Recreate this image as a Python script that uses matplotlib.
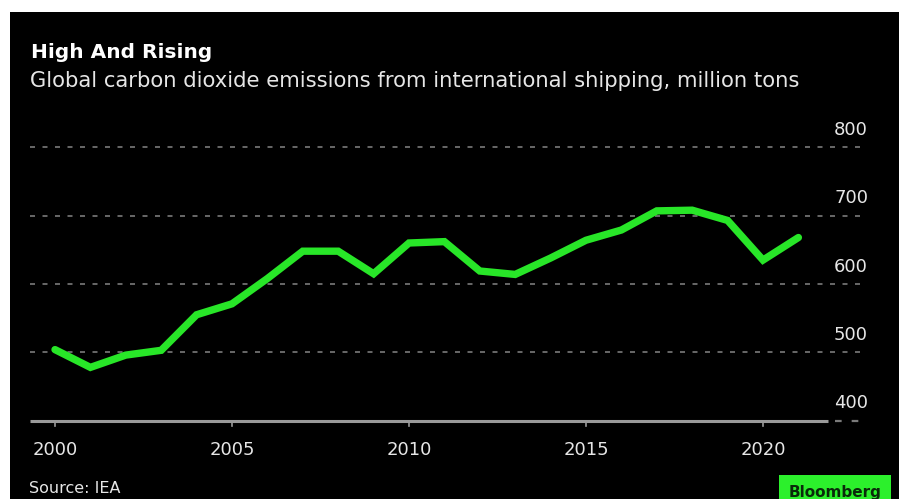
import numpy as np
import matplotlib.pyplot as plt
from matplotlib.patches import Rectangle

YEARS = list(range(2000, 2022))
EMISSIONS = [504, 478, 496, 503, 555, 571, 608, 648, 648, 615, 660, 662,
             619, 614, 638, 664, 679, 707, 708, 693, 635, 668]
Y_TICKS = [400, 500, 600, 700, 800]
X_TICKS = [2000, 2005, 2010, 2015, 2020]

TITLE = 'High And Rising'
SUBTITLE = 'Global carbon dioxide emissions from international shipping, million tons'
SOURCE = 'Source: IEA'

W, H = 904, 499
LINE_GREEN = '#28e628'
LOGO_GREEN = '#2cf02c'
GRID_GRAY = '#7a7a7a'
AXIS_GRAY = '#9a9a9a'
TEXT_COLOR = '#e6e6e6'
FONT = 'DejaVu Sans'

fig = plt.figure(figsize=(W / 100, H / 100), dpi=100, facecolor='white')
# black card with a thin white margin, like the screenshot
fig.patches.append(Rectangle((10 / W, 0), 889 / W, 1 - 12 / H, transform=fig.transFigure,
                             facecolor='black', edgecolor='none', zorder=-5))


def px(x, y):
    # pixel coords (origin top-left) -> figure fraction
    return x / W, 1 - y / H


# axes: x 30..865 px, y limits 390..810
ax_l, ax_r = 30, 865
y_lo, y_hi = 390, 810
y_top_px = 147.3 - (y_hi - 800) * 0.6835
y_bot_px = 420.7 + (400 - y_lo) * 0.6835
ax = fig.add_axes([ax_l / W, 1 - y_bot_px / H, (ax_r - ax_l) / W, (y_bot_px - y_top_px) / H])
ax.set_facecolor('none')
ax.set_zorder(2)
px_per_year = 35.4
x_left = 2000 - (55 - ax_l) / px_per_year
x_right = 2000 + (ax_r - 55) / px_per_year
ax.set_xlim(x_left, x_right)
ax.set_ylim(y_lo, y_hi)
for s in ax.spines.values():
    s.set_visible(False)
ax.set_yticks([])
ax.set_xticks([])

# dashed gridlines
for v in Y_TICKS[1:]:
    ax.axhline(v, color=GRID_GRAY, lw=1.2, linestyle=(0, (3, 4.5)), zorder=1)
# baseline: solid up to the end of the data area, dashed after
axis_end = 2000 + (828 - 55) / px_per_year
ax.plot([x_left, axis_end], [400, 400], color=AXIS_GRAY, lw=2.2, solid_capstyle='butt', zorder=2)
ax.plot([axis_end + 0.2, x_right], [400, 400], color=GRID_GRAY, lw=1.6,
        linestyle=(0, (3, 4.5)), zorder=2)
# small ticks below baseline
for t in X_TICKS:
    ax.plot([t, t], [400, 400 - 7.5], color=AXIS_GRAY, lw=1.2, clip_on=False, zorder=2)
    ax.text(t, 400 - 50, str(t), ha='center', va='baseline', color=TEXT_COLOR,
            fontsize=13, family=FONT, clip_on=False)

# y labels above gridlines, right aligned
for v in Y_TICKS:
    ax.text(x_left + (868 - ax_l) / px_per_year, v + 18, str(v), ha='right', va='baseline',
            color=TEXT_COLOR, fontsize=13, family=FONT)

ax.plot(YEARS, EMISSIONS, color=LINE_GREEN, lw=5.3, solid_joinstyle='miter',
        solid_capstyle='round', zorder=3)

fig.text(*px(31, 58), TITLE, color='white', fontsize=14.5, fontweight='bold',
         family=FONT, ha='left', va='baseline')
fig.text(*px(30, 87), SUBTITLE, color=TEXT_COLOR, fontsize=15.2,
         family=FONT, ha='left', va='baseline')
fig.text(*px(29, 493), SOURCE, color=TEXT_COLOR, fontsize=11.5,
         family=FONT, ha='left', va='baseline')

# Bloomberg tag
fig.patches.append(Rectangle(px(779, 499), 112 / W, 24 / H, transform=fig.transFigure,
                             facecolor=LOGO_GREEN, edgecolor='none', zorder=1))
fig.text(*px(835, 497), 'Bloomberg', color='#0a2a0a', fontsize=11, fontweight='bold',
         family=FONT, ha='center', va='baseline')

fig.savefig('out.png', dpi=100, facecolor=fig.get_facecolor())
